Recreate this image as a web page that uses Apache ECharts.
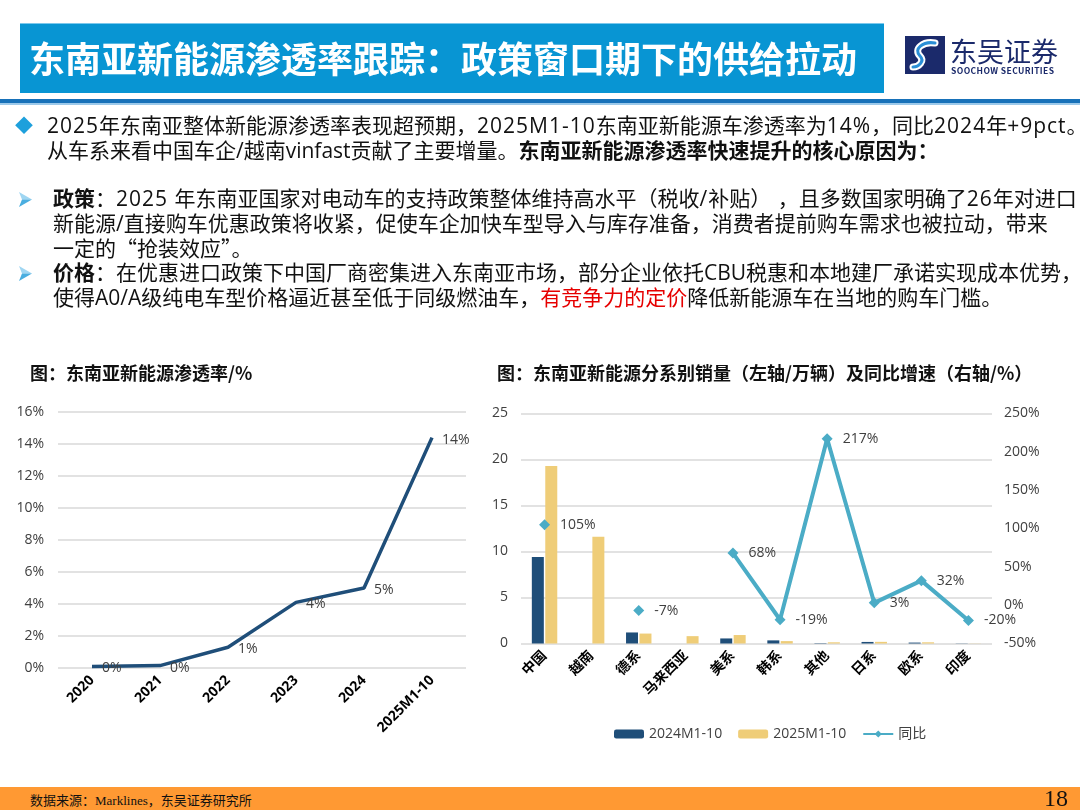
<!DOCTYPE html>
<html>
<head>
<meta charset="utf-8">
<script src="https://cdn.jsdelivr.net/npm/echarts@6/dist/echarts.min.js"></script>
<style>
  body { margin: 0; width: 1080px; height: 810px; position: relative; overflow: hidden; background: #fff;
         font-family: "Noto Sans CJK SC", "Noto Sans", sans-serif; }
  #chart { position: absolute; left: 0; top: 0; width: 1080px; height: 810px; }
  .abs { position: absolute; white-space: nowrap; }
  #band { left: 20px; top: 23px; width: 864px; height: 69px; background: #0895d3; border-top: 1px solid #7cc8ec; }
  #title { left: 29px; top: 23px; height: 69px; line-height: 69px; color: #fff; font-size: 36px; font-weight: bold; }
  #rule1 { left: 0; top: 99px; width: 1080px; height: 4px; background: #1771b9; }
  #rule2 { left: 0; top: 103px; width: 1080px; height: 2px; background: #9cc9ea; }
  .txt { font-family: "Open Sans", "Noto Sans CJK SC", sans-serif; font-size: 21px; line-height: 24.5px; color: #111; }
  .lt { letter-spacing: 1px; }
  .cq { font-family: "Noto Sans CJK SC", sans-serif; }
  .red { color: #e60000; }
  .ctitle { font-size: 18px; font-weight: bold; color: #111; }
  #foot { left: 0; top: 787px; width: 1080px; height: 23px; background: #ff9933; }
  #src { left: 30px; top: 790px; font-size: 13px; font-family: "Liberation Serif", "Noto Sans CJK SC", serif; color: #111; }
  #page { left: 1044px; top: 785px; font-size: 24px; font-family: "Liberation Serif", serif; color: #111; }
</style>
</head>
<body>
<div id="chart"></div>

<div class="abs" id="band"></div>
<div class="abs" id="title">东南亚新能源渗透率跟踪：政策窗口期下的供给拉动</div>
<div class="abs" style="left:905px;top:36px;">
  <svg width="40" height="38" viewBox="0 0 40 38">
    <rect x="0" y="0" width="40" height="38" fill="#1b2a6b"/>
    <path d="M30 7 C18 5 8 13 15 20 C20 25 14 31 8 31" stroke="#fff" stroke-width="7" fill="none" stroke-linecap="round"/>
    <path d="M30 7 C18 5 8 13 15 20 C20 25 14 31 8 31" stroke="#2a8fd6" stroke-width="3" fill="none" stroke-linecap="round"/>
  </svg>
</div>
<div class="abs" style="left:950px;top:31px;font-size:27px;color:#1b2a6b;">东吴证券</div>
<div class="abs" style="left:951px;top:64px;font-size:8.5px;font-weight:bold;color:#1b2a6b;letter-spacing:0.4px;">SOOCHOW SECURITIES</div>
<div class="abs" id="rule1"></div>
<div class="abs" id="rule2"></div>

<div class="abs" style="left:15px;top:111px;font-size:18px;color:#1ea0dc;">◆</div>
<div class="abs txt" style="left:47px;top:113px;"><span class="lt">2025</span>年东南亚整体新能源渗透率表现超预期，<span class="lt">2025M1-10</span>东南亚新能源车渗透率为<span class="lt">14%</span>，同比<span class="lt">2024</span>年<span class="lt">+9pct</span>。<br>从车系来看中国车企/越南vinfast贡献了主要增量。<b>东南亚新能源渗透率快速提升的核心原因为：</b></div>

<svg class="abs" style="left:19px;top:192px;" width="13" height="15" viewBox="0 0 13 15">
  <polygon points="0,0 13,7.5 3,7.5" fill="#9fd6f2"/>
  <polygon points="0,15 13,7.5 3,7.5" fill="#4aaee0"/>
</svg>
<div class="abs txt" style="left:53px;top:186px;"><b>政策</b>：<span class="lt">2025 </span>年东南亚国家对电动车的支持政策整体维持高水平（税收<span class="lt">/</span>补贴）<span class="lt"> </span>，且多数国家明确了<span class="lt">26</span>年对进口<br>新能源/直接购车优惠政策将收紧，促使车企加快车型导入与库存准备，消费者提前购车需求也被拉动，带来<br>一定的<span class="cq">“</span>抢装效应<span class="cq">”</span>。</div>
<svg class="abs" style="left:19px;top:266px;" width="13" height="15" viewBox="0 0 13 15">
  <polygon points="0,0 13,7.5 3,7.5" fill="#9fd6f2"/>
  <polygon points="0,15 13,7.5 3,7.5" fill="#4aaee0"/>
</svg>
<div class="abs txt" style="left:53px;top:260px;"><b>价格</b>：在优惠进口政策下中国厂商密集进入东南亚市场，部分企业依托CBU税惠和本地建厂承诺实现成本优势，<br>使得A0/A级纯电车型价格逼近甚至低于同级燃油车，<span class="red">有竞争力的定价</span>降低新能源车在当地的购车门槛。</div>

<div class="abs ctitle" style="left:30px;top:359px;">图：东南亚新能源渗透率/%</div>
<div class="abs ctitle" style="left:497px;top:359px;">图：东南亚新能源分系别销量（左轴/万辆）及同比增速（右轴/%）</div>

<div class="abs" id="foot"></div>
<div class="abs" id="src">数据来源：Marklines，东吴证券研究所</div>
<div class="abs" id="page">18</div>

<script>
// 左图：东南亚新能源渗透率 (%)
var penYears = ['2020', '2021', '2022', '2023', '2024', '2025M1-10'];
var penRate = [0.1, 0.15, 1.3, 4.1, 5.0, 14.4];

// 右图：分系别销量（万辆）及同比（%）
var brands = ['中国', '越南', '德系', '马来西亚', '美系', '韩系', '其他', '日系', '欧系', '印度'];
var sales2024 = [9.4, 0, 1.2, 0, 0.55, 0.34, 0.04, 0.17, 0.1, 0.02];
var sales2025 = [19.3, 11.6, 1.08, 0.8, 0.92, 0.26, 0.13, 0.18, 0.13, 0.016];
var yoy = [105, null, -7, null, 68, -19, 217, 3, 32, -20];

var labelGray = '#404040';
var gridGray = '#d9d9d9';
var font = '"Open Sans", "Noto Sans CJK SC", sans-serif';

var chart = echarts.init(document.getElementById('chart'));

var catLabel = {
    rotate: 45,
    fontSize: 14,
    fontWeight: 'bold',
    color: '#000',
    fontFamily: font,
    margin: 10
};

var option = {
    animation: false,
    textStyle: { fontFamily: font },
    legend: {
        left: 609,
        top: 722,
        itemWidth: 30,
        itemHeight: 9,
        itemGap: 16,
        textStyle: { fontSize: 14, color: labelGray, fontFamily: font },
        data: ['2024M1-10', '2025M1-10', '同比']
    },
    grid: [
        { left: 58, top: 412, width: 408, height: 256 },
        { left: 521, top: 413.5, width: 471, height: 230 }
    ],
    xAxis: [
        {
            type: 'category', gridIndex: 0, data: penYears,
            axisLine: { show: false }, axisTick: { show: false },
            axisLabel: catLabel
        },
        {
            type: 'category', gridIndex: 1, data: brands,
            axisLine: { show: false }, axisTick: { show: false },
            axisLabel: catLabel
        }
    ],
    yAxis: [
        {
            type: 'value', gridIndex: 0, min: 0, max: 16, interval: 2,
            axisLabel: { formatter: '{value}%', fontSize: 14, color: labelGray, margin: 14 },
            splitLine: { lineStyle: { color: gridGray, width: 1.5 } }
        },
        {
            type: 'value', gridIndex: 1, min: 0, max: 25, interval: 5,
            axisLabel: { fontSize: 14, color: labelGray, margin: 13 },
            splitLine: { lineStyle: { color: gridGray, width: 1.5 } }
        },
        {
            type: 'value', gridIndex: 1, min: -50, max: 250, interval: 50, position: 'right',
            axisLabel: { formatter: '{value}%', fontSize: 14, color: labelGray, margin: 12 },
            splitLine: { show: false }
        }
    ],
    series: [
        {
            type: 'line', xAxisIndex: 0, yAxisIndex: 0, data: penRate,
            symbol: 'circle', symbolSize: 0.1,
            lineStyle: { color: '#1f4e79', width: 3.5 },
            itemStyle: { color: '#1f4e79' },
            label: {
                show: true, position: 'right', distance: 10, offset: [0, 2],
                fontSize: 14, color: labelGray,
                formatter: function (p) { return Math.round(p.value) + '%'; }
            }
        },
        {
            name: '2024M1-10', type: 'bar', xAxisIndex: 1, yAxisIndex: 1, data: sales2024,
            barWidth: 12, barGap: '12%',
            itemStyle: { color: '#1f4e79' }
        },
        {
            name: '2025M1-10', type: 'bar', xAxisIndex: 1, yAxisIndex: 1, data: sales2025,
            barWidth: 12,
            itemStyle: { color: '#efcd78' }
        },
        {
            name: '同比', type: 'line', xAxisIndex: 1, yAxisIndex: 2, data: yoy,
            connectNulls: false,
            symbol: 'diamond', symbolSize: 11,
            lineStyle: { color: '#4bacc6', width: 4 },
            itemStyle: { color: '#4bacc6' },
            label: {
                show: true, position: 'right', distance: 10,
                fontSize: 14, color: labelGray,
                formatter: function (p) { return p.value + '%'; }
            }
        }
    ]
};

chart.setOption(option);
</script>
</body>
</html>
